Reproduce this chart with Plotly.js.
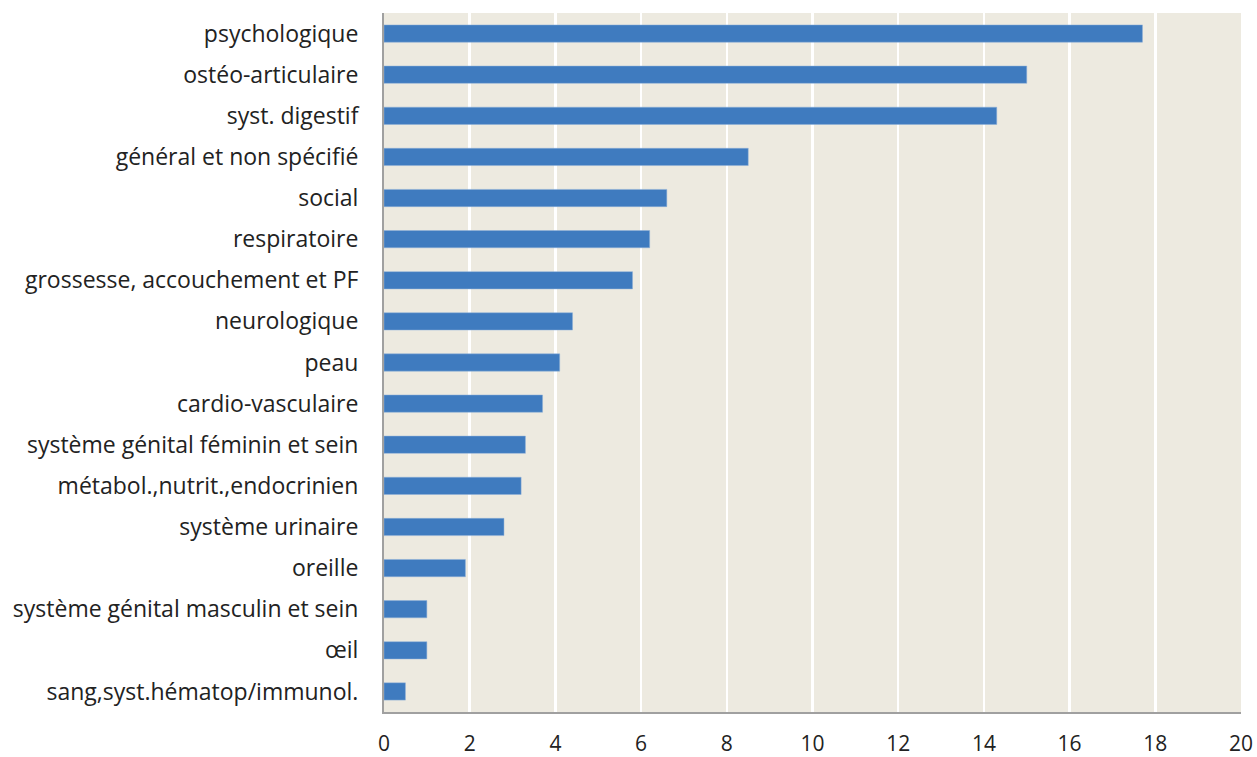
<!DOCTYPE html>
<html><head><meta charset="utf-8">
<script src="https://cdn.plot.ly/plotly-3.0.1.min.js"></script>
<style>html,body{margin:0;padding:0;background:#fff;}</style>
</head><body>
<div id="chart" style="width:1257px;height:757px;"></div>
<script>
const categories = [
  "psychologique",
  "ostéo-articulaire",
  "syst. digestif",
  "général et non spécifié",
  "social",
  "respiratoire",
  "grossesse, accouchement et PF",
  "neurologique",
  "peau",
  "cardio-vasculaire",
  "système génital féminin et sein",
  "métabol.,nutrit.,endocrinien",
  "système urinaire",
  "oreille",
  "système génital masculin et sein",
  "œil",
  "sang,syst.hématop/immunol."
];
const values = [17.7, 15.0, 14.3, 8.5, 6.6, 6.2, 5.8, 4.4, 4.1, 3.7, 3.3, 3.2, 2.8, 1.9, 1.0, 1.0, 0.5];
const xTicks = [0, 2, 4, 6, 8, 10, 12, 14, 16, 18, 20];

const trace = {
  type: "bar",
  orientation: "h",
  x: values,
  y: categories,
  marker: {color: "#3F7BBF", line: {color: "#8FB0D8", width: 0.5}},
  hoverinfo: "x+y"
};
const layout = {
  width: 1257, height: 757,
  margin: {l: 384, r: 16, t: 13, b: 45},
  paper_bgcolor: "#ffffff",
  plot_bgcolor: "#EDEAE0",
  bargap: 0.58,
  showlegend: false,
  font: {family: "'Open Sans', 'Noto Sans', sans-serif", color: "#222", size: 23},
  xaxis: {
    range: [0, 20], tickvals: xTicks, ticktext: xTicks.map(String),
    showgrid: true, gridcolor: "#ffffff", gridwidth: 2.5,
    zeroline: false, showline: true, linecolor: "#A0A0A0", linewidth: 2,
    ticks: "", ticklabelstandoff: 12, tickfont: {size: 21, color: "#222"}, fixedrange: true
  },
  yaxis: {
    autorange: "reversed", type: "category",
    showgrid: false, zeroline: false, showline: true, linecolor: "#A0A0A0", linewidth: 2,
    ticks: "", ticklabelstandoff: 19, tickfont: {size: 23, color: "#222"}, fixedrange: true
  }
};
Plotly.newPlot("chart", [trace], layout, {displayModeBar: false, staticPlot: true});
</script>
</body></html>
